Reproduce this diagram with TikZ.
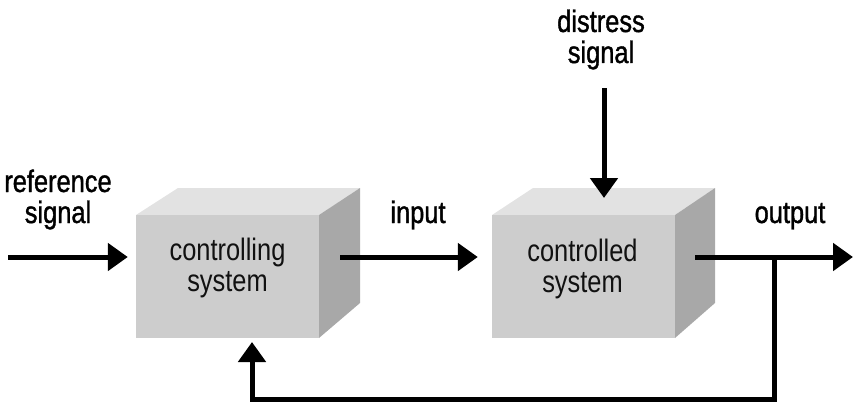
\documentclass[tikz,border=0pt]{standalone}
\usepackage{fontspec}
\setmainfont{Liberation Sans}[FakeStretch=0.82]
\newfontfamily\heavylbl{Liberation Sans}[FakeStretch=0.82,FakeBold=1.2]
\usetikzlibrary{arrows.meta,calc}
\definecolor{frontc}{HTML}{CDCDCD}
\definecolor{topc}{HTML}{E2E2E2}
\definecolor{sidec}{HTML}{A8A8A8}
\definecolor{textc}{HTML}{111111}
\tikzset{
  boxfront/.style={fill=frontc, minimum width=183pt, minimum height=123pt, inner sep=0pt},
  lbl/.style={align=center, font=\fontsize{31}{31}\selectfont, inner sep=0pt, anchor=base, text=textc},
  outlbl/.style={lbl, font=\heavylbl\fontsize{31}{31}\selectfont, text=black},
  conn/.style={line width=5pt, -{Triangle[length=20pt,width=27pt]}},
}
\begin{document}
\begin{tikzpicture}[x=1pt,y=-1pt]
\useasboundingbox (0,0) rectangle (853,404);
% box 1
\fill[topc] (136,215) -- (178,188) -- (360,188) -- (319,215) -- cycle;
\fill[sidec] (319,215) -- (360,188) -- (360,303) -- (319,338) -- cycle;
\node[boxfront] (b1) at (227.5,276.5) {};
\node[lbl] (t1) at (227.5,291) {controlling\\system};
% box 2
\fill[topc] (492,215) -- (533,188) -- (715,188) -- (675,215) -- cycle;
\fill[sidec] (675,215) -- (715,188) -- (715,303) -- (675,338) -- cycle;
\node[boxfront] (b2) at (583.5,276.5) {};
\node[lbl] (t2) at (582.5,292) {controlled\\system};
% labels
\node[outlbl] (ref) at (58,223) {reference\\signal};
\node[outlbl] (inp) at (418,223) {input};
\node[outlbl] (out) at (790,223) {output};
\node[outlbl] (dis) at (601,63) {distress\\signal};
% coordinates
\coordinate (refstart) at (8,257);
\coordinate (b1out) at (340,257);
\coordinate (b2out) at (695,257);
\coordinate (outend) at (853,257);
\coordinate (disstart) at (604,88);
\coordinate (distip) at (604,198);
\coordinate (fbtop) at (774,257);
\coordinate (fbright) at (774,399);
\coordinate (fbleft) at (252,399);
\coordinate (fbtip) at (252,342);
% connectors
\draw[conn] (refstart) -- ($(b1.west |- refstart)+(-8,0)$);
\draw[conn] (b1out) -- ($(b2.west |- b1out)+(-14,0)$);
\draw[conn] (disstart) -- (distip);
\draw[conn] (b2out) -- (outend);
\draw[conn] (fbtop) -- (fbright) -- (fbleft) -- (fbtip);
\end{tikzpicture}
\end{document}
